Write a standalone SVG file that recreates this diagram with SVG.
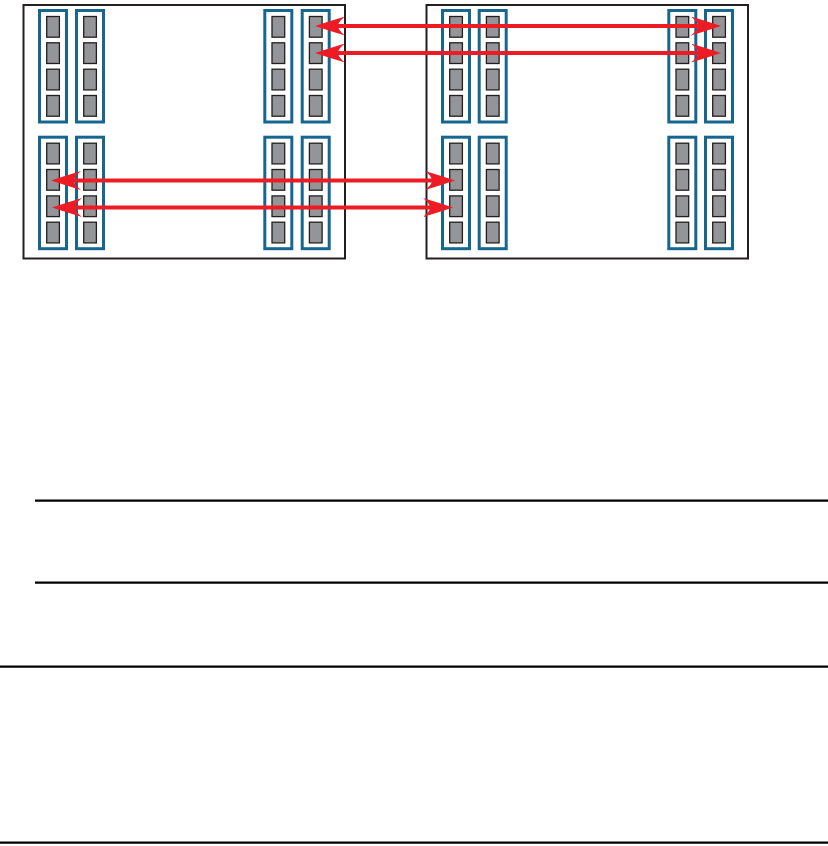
<svg xmlns="http://www.w3.org/2000/svg" xmlns:xlink="http://www.w3.org/1999/xlink" width="828" height="846" viewBox="0 0 828 846">
<style>
.frame{fill:#fff;stroke:#231f20;stroke-width:2}
.col{fill:#fff;stroke:#17668f;stroke-width:3}
.cell{fill:#939598;stroke:#231f20;stroke-width:1.3}
.link{stroke:#ed1c24;stroke-width:4;fill:none}
.rule{stroke:#000;stroke-width:2.2}
</style>
<defs>
<marker id="ah" viewBox="0 -9.5 30 19" refX="10" refY="0" markerWidth="30" markerHeight="19" markerUnits="userSpaceOnUse" orient="auto-start-reverse">
<path d="M30,0 Q15,-5 0,-9.5 Q7,-4 7,0 Q7,4 0,9.5 Q15,5 30,0 Z" fill="#ed1c24"/>
</marker>
<g id="column">
<rect class="col" x="0" y="0" width="27" height="111.5"/>
<rect class="cell" x="7.2" y="6" width="12.7" height="20.7"/>
<rect class="cell" x="7.2" y="32.3" width="12.7" height="20.7"/>
<rect class="cell" x="7.2" y="58.7" width="12.7" height="20.7"/>
<rect class="cell" x="7.2" y="85" width="12.7" height="20.7"/>
</g>
</defs>
<rect width="828" height="846" fill="#fff"/>
<g id="box-left">
<rect class="frame" x="23.5" y="5" width="321.5" height="253.5"/>
<g id="L-c1-top" transform="translate(39.5,10.5)"><use href="#column"/></g>
<g id="L-c2-top" transform="translate(76.5,10.5)"><use href="#column"/></g>
<g id="L-c3-top" transform="translate(264.8,10.5)"><use href="#column"/></g>
<g id="L-c4-top" transform="translate(302.2,10.5)"><use href="#column"/></g>
<g id="L-c1-bot" transform="translate(39.5,137.2)"><use href="#column"/></g>
<g id="L-c2-bot" transform="translate(76.5,137.2)"><use href="#column"/></g>
<g id="L-c3-bot" transform="translate(264.8,137.2)"><use href="#column"/></g>
<g id="L-c4-bot" transform="translate(302.2,137.2)"><use href="#column"/></g>
</g>
<g id="box-right">
<rect class="frame" x="426.5" y="5" width="321.5" height="253.5"/>
<g id="R-c1-top" transform="translate(442.5,10.5)"><use href="#column"/></g>
<g id="R-c2-top" transform="translate(479.2,10.5)"><use href="#column"/></g>
<g id="R-c3-top" transform="translate(668.8,10.5)"><use href="#column"/></g>
<g id="R-c4-top" transform="translate(705.5,10.5)"><use href="#column"/></g>
<g id="R-c1-bot" transform="translate(442.5,137.2)"><use href="#column"/></g>
<g id="R-c2-bot" transform="translate(479.2,137.2)"><use href="#column"/></g>
<g id="R-c3-bot" transform="translate(668.8,137.2)"><use href="#column"/></g>
<g id="R-c4-bot" transform="translate(705.5,137.2)"><use href="#column"/></g>
</g>
<g id="connectors">
<line class="link" x1="335" y1="26" x2="701" y2="26" marker-start="url(#ah)" marker-end="url(#ah)"/>
<line class="link" x1="335" y1="53" x2="701" y2="53" marker-start="url(#ah)" marker-end="url(#ah)"/>
<line class="link" x1="71" y1="180.5" x2="435" y2="180.5" marker-start="url(#ah)" marker-end="url(#ah)"/>
<line class="link" x1="72" y1="207.5" x2="433" y2="207.5" marker-start="url(#ah)" marker-end="url(#ah)"/>
</g>
<g id="rules">
<line class="rule" x1="35" y1="500.7" x2="828" y2="500.7"/>
<line class="rule" x1="35" y1="582.7" x2="828" y2="582.7"/>
<line class="rule" x1="0" y1="666.7" x2="828" y2="666.7"/>
<line class="rule" x1="0" y1="842.7" x2="828" y2="842.7"/>
</g>
</svg>
